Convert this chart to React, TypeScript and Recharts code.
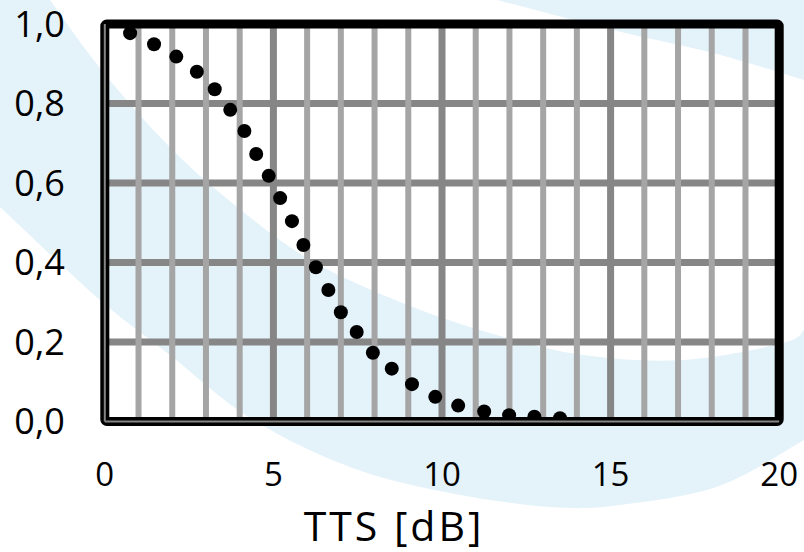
import React from 'react';
import {
  ScatterChart,
  Scatter,
  XAxis,
  YAxis,
  CartesianGrid,
  ReferenceLine,
  ReferenceArea,
  Label,
} from 'recharts';

// Temporary threshold shift (dB) and the matching probability values
const ttsDb = [
  0.75, 1.46, 2.12, 2.73, 3.26, 3.72, 4.14, 4.49, 4.86, 5.2, 5.55, 5.89, 6.26,
  6.63, 7.0, 7.47, 7.95, 8.51, 9.11, 9.8, 10.48, 11.25, 11.99, 12.74, 13.5,
];
const probability = [
  0.977, 0.949, 0.918, 0.88, 0.836, 0.784, 0.731, 0.673, 0.618, 0.562, 0.504,
  0.444, 0.388, 0.331, 0.275, 0.225, 0.173, 0.133, 0.094, 0.062, 0.04, 0.025,
  0.016, 0.012, 0.008,
];

const xTicks = [0, 5, 10, 15, 20];
const yTicks = [0, 0.2, 0.4, 0.6, 0.8, 1.0];
const minorX = [1, 2, 3, 4, 6, 7, 8, 9, 11, 12, 13, 14, 16, 17, 18, 19];
const majorX = [5, 10, 15];

const points = ttsDb.map((x, i) => ({ x, y: probability[i] }));

const W = 804;
const H = 552;
const FONT = "'Open Sans', 'Liberation Sans', sans-serif";
const WASH = '#e4f2fa';

type Pt = [number, number];

// Smooth Catmull-Rom curve through a list of points, as cubic Bezier segments
function curve(pts: Pt[]): string {
  let d = '';
  for (let i = 0; i < pts.length - 1; i++) {
    const p0 = pts[i - 1] || pts[i];
    const p1 = pts[i];
    const p2 = pts[i + 1];
    const p3 = pts[i + 2] || p2;
    const c1 = [p1[0] + (p2[0] - p0[0]) / 6, p1[1] + (p2[1] - p0[1]) / 6];
    const c2 = [p2[0] - (p3[0] - p1[0]) / 6, p2[1] - (p3[1] - p1[1]) / 6];
    d += ` C${c1[0]},${c1[1]} ${c2[0]},${c2[1]} ${p2[0]},${p2[1]}`;
  }
  return d;
}

// Pale decorative swooshes in the page background
const swooshUpper: Pt[] = [
  [50, 0], [100, 68], [160, 137], [220, 193], [307, 258], [400, 302],
  [490, 333], [583, 355], [683, 360], [783, 343], [804, 330],
];
const swooshLower: Pt[] = [
  [804, 440], [719, 486], [620, 505], [550, 507], [450, 493], [350, 467],
  [250, 418], [170, 355], [100, 300], [0, 207],
];
const cornerEdge: Pt[] = [[804, 80], [713, 53], [613, 30], [497, 0]];

function Backdrop() {
  const band =
    `M0,0 L50,0` + curve(swooshUpper) + ` L804,440` + curve(swooshLower) + ' Z';
  const corner = `M497,0 L804,0 L804,80` + curve(cornerEdge) + ' Z';
  return (
    <svg width={W} height={H} style={{ position: 'absolute', left: 0, top: 0 }}>
      <rect x={0} y={0} width={W} height={H} fill="#ffffff" />
      <path d={band} fill={WASH} />
      <path d={corner} fill={WASH} />
    </svg>
  );
}

const fmtY = (v: number) => v.toFixed(1).replace('.', ',');

export default function App() {
  return (
    <div style={{ position: 'absolute', left: 0, top: 0, width: W, height: H }}>
      <Backdrop />
      <div style={{ position: 'absolute', left: 0, top: 0 }}>
        <ScatterChart
          width={W}
          height={H}
          margin={{ top: 24, right: 24.8, bottom: 0, left: 0 }}
        >
          <CartesianGrid
            vertical={false}
            stroke="#868686"
            strokeWidth={7}
          />
          {minorX.map((v) => (
            <ReferenceLine key={`m${v}`} x={v} stroke="#a5a5a5" strokeWidth={6} />
          ))}
          {majorX.map((v) => (
            <ReferenceLine key={`M${v}`} x={v} stroke="#868686" strokeWidth={7} />
          ))}
          <Scatter
            data={points}
            dataKey="y"
            isAnimationActive={false}
            shape={(p: any) => <circle cx={p.cx} cy={p.cy} r={7} fill="#000" />}
          />
          {/* plot frame sits above the dots */}
          <ReferenceArea
            x1={0}
            x2={20}
            y1={0}
            y2={1}
            ifOverflow="visible"
            zIndex={700}
            shape={(p: any) => (
              <rect
                x={p.x}
                y={p.y}
                width={p.width}
                height={p.height}
                rx={2}
                fill="none"
                stroke="#000"
                strokeWidth={9}
              />
            )}
          />
          <XAxis
            type="number"
            dataKey="x"
            domain={[0, 20]}
            ticks={xTicks}
            height={130.5}
            tickLine={false}
            tickSize={6}
            tickMargin={35.5}
            zIndex={800}
            axisLine={{ stroke: '#868686', strokeWidth: 2 }}
            tick={{ fill: '#000', fontSize: 33, fontFamily: FONT }}
            interval={0}
          >
            <Label
              content={({ viewBox }: any) => (
                <text
                  x={viewBox.x + viewBox.width / 2 - 48}
                  y={viewBox.y + viewBox.height - 11}
                  textAnchor="middle"
                  fontSize={41}
                  letterSpacing={3}
                  fontFamily={FONT}
                  fill="#000"
                >
                  TTS [dB]
                </text>
              )}
            />
          </XAxis>
          <YAxis
            type="number"
            domain={[0, 1]}
            ticks={yTicks}
            width={104.8}
            tickLine={false}
            tickSize={6}
            tickMargin={34}
            zIndex={800}
            tickFormatter={fmtY}
            axisLine={{ stroke: '#868686', strokeWidth: 2 }}
            tick={{ fill: '#000', fontSize: 36, fontFamily: FONT }}
            interval={0}
          />
        </ScatterChart>
      </div>
    </div>
  );
}
